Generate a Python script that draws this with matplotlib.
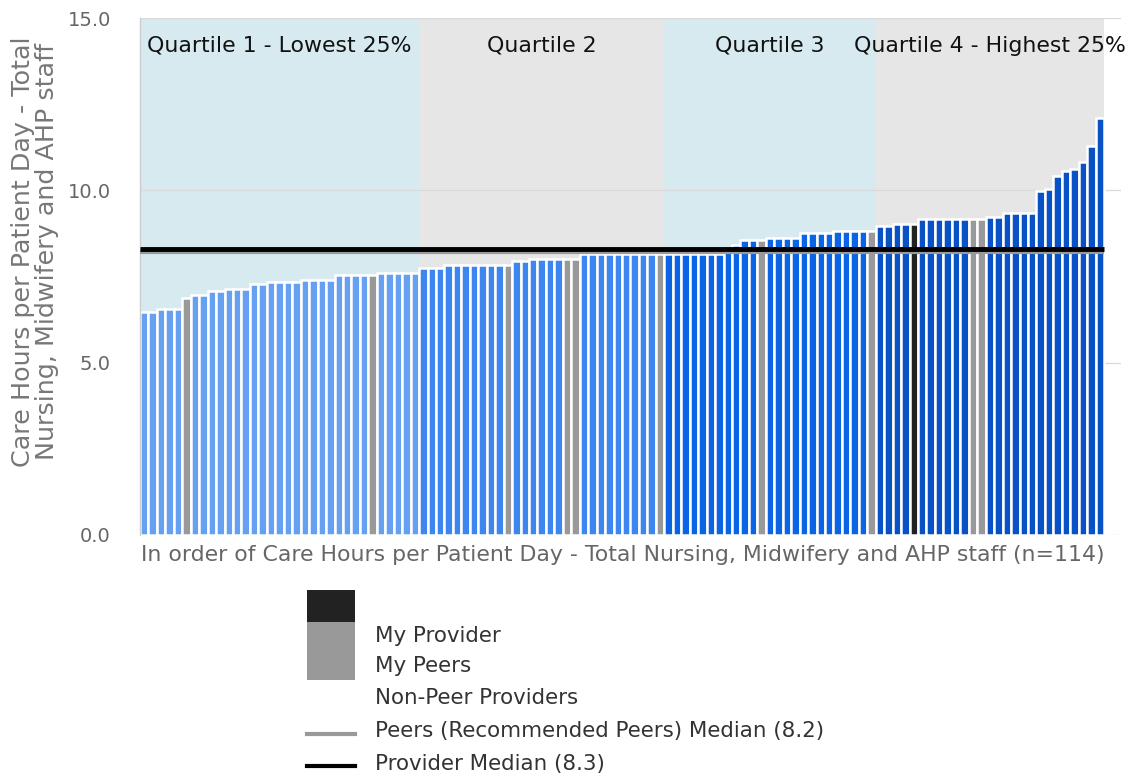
import matplotlib
matplotlib.use("Agg")
import matplotlib.pyplot as plt
from matplotlib.patches import Rectangle
from matplotlib.lines import Line2D

# ---------------- data ----------------
values = [6.47, 6.47, 6.55, 6.55, 6.55, 6.89, 6.96, 6.96, 7.08, 7.08,
          7.15, 7.15, 7.15, 7.28, 7.28, 7.34, 7.34, 7.34, 7.34, 7.41,
          7.41, 7.41, 7.41, 7.54, 7.54, 7.54, 7.54, 7.54, 7.61, 7.61,
          7.61, 7.61, 7.61, 7.75, 7.75, 7.75, 7.82, 7.82, 7.82, 7.82,
          7.82, 7.82, 7.82, 7.82, 7.95, 7.95, 8.02, 8.02, 8.02, 8.02,
          8.02, 8.02, 8.15, 8.15, 8.15, 8.15, 8.15, 8.15, 8.15, 8.15,
          8.15, 8.15, 8.15, 8.15, 8.15, 8.15, 8.15, 8.15, 8.15, 8.22,
          8.41, 8.55, 8.55, 8.55, 8.62, 8.62, 8.62, 8.62, 8.75, 8.75,
          8.75, 8.75, 8.82, 8.82, 8.82, 8.82, 8.82, 8.96, 8.96, 9.02,
          9.02, 9.02, 9.16, 9.16, 9.16, 9.16, 9.16, 9.16, 9.16, 9.16,
          9.23, 9.23, 9.35, 9.35, 9.35, 9.35, 9.97, 10.03, 10.43, 10.56,
          10.63, 10.83, 11.30, 12.11]
peer_idx = [5, 27, 43, 50, 51, 61, 73, 86, 98, 99]
provider_idx = [91]
quartile_sizes = [33, 29, 25, 27]
quartile_labels = ["Quartile 1 - Lowest 25%", "Quartile 2", "Quartile 3",
                   "Quartile 4 - Highest 25%"]
peers_median = 8.2
provider_median = 8.3
yticks = [0.0, 5.0, 10.0, 15.0]
xlabel = ("In order of Care Hours per Patient Day - Total Nursing, Midwifery "
          "and AHP staff (n=114)")
ylabel = "Care Hours per Patient Day - Total\nNursing, Midwifery and AHP staff"
legend_labels = ["My Provider", "My Peers", "Non-Peer Providers",
                 "Peers (Recommended Peers) Median (8.2)", "Provider Median (8.3)"]

# ---------------- style ----------------
q_colors = ["#66a1f1", "#3d86ef", "#0b64e4", "#0852c6"]
bg_colors = ["#d6eaf0", "#e6e6e6", "#d6eaf0", "#e6e6e6"]
peer_color = "#999999"
prov_color = "#222222"

W, H = 1137, 779
fig = plt.figure(figsize=(W / 100, H / 100), dpi=100)
ax = fig.add_axes([140 / W, 1 - 535 / H, 981 / W, (535 - 18) / H])

n = len(values)
x = list(range(n))
colors = []
starts = []
s = 0
for qi, size in enumerate(quartile_sizes):
    starts.append(s)
    colors += [q_colors[qi]] * size
    s += size
for i in peer_idx:
    colors[i] = peer_color
for i in provider_idx:
    colors[i] = prov_color

# quartile shading and labels
for qi, size in enumerate(quartile_sizes):
    x0 = starts[qi] - 0.5
    ax.axvspan(x0, x0 + size, ymin=0, ymax=1, color=bg_colors[qi], lw=0, zorder=0)
    ax.text(x0 + size / 2, 14.2, quartile_labels[qi], ha="center", va="center",
            fontsize=15.8, color="#111111", zorder=5)

for yv in yticks:
    ax.axhline(yv, color="#d9d9d9", lw=0.9, zorder=1)

ax.bar(x, values, width=1.0, color=colors, edgecolor="white", linewidth=1.8, zorder=2)

ax.plot([-0.5, n - 0.5], [peers_median] * 2, color="#999999", lw=3.0, zorder=3,
        solid_capstyle="butt")
ax.plot([-0.5, n - 0.5], [provider_median] * 2, color="black", lw=3.5, zorder=4,
        solid_capstyle="butt")

ax.set_xlim(-0.5, n + 1.5)
ax.set_ylim(0, 15)
ax.set_yticks(yticks)
ax.set_yticklabels([f"{v:.1f}" for v in yticks], fontsize=14, color="#666666")
ax.tick_params(axis="y", length=0, pad=21)
ax.set_xticks([])
for sp in ["top", "right", "bottom"]:
    ax.spines[sp].set_visible(False)
ax.spines["left"].set_color("#cccccc")
ax.spines["left"].set_linewidth(1.0)

fig.text(623 / W, 1 - 555 / H, xlabel,
         ha="center", va="center", fontsize=15.8, color="#666666")
fig.text(35 / W, 1 - 252 / H, ylabel, ha="center", va="center", rotation=90,
         fontsize=18.3, color="#777777", linespacing=0.98)

# legend drawn manually to reproduce layout
def px_rect(x0, y0, x1, y1, c):
    fig.add_artist(Rectangle((x0 / W, 1 - y1 / H), (x1 - x0) / W, (y1 - y0) / H,
                             transform=fig.transFigure, color=c, lw=0))

px_rect(307, 590, 355, 622, prov_color)
px_rect(307, 622, 355, 680, peer_color)
fig.add_artist(Line2D([307 / W, 355 / W], [1 - 734 / H] * 2, color="#999999", lw=3.0,
                      transform=fig.transFigure))
fig.add_artist(Line2D([307 / W, 355 / W], [1 - 766 / H] * 2, color="black", lw=3.0,
                      transform=fig.transFigure))
for lab, yy in zip(legend_labels, [636, 666, 698, 731, 764]):
    fig.text(375 / W, 1 - yy / H, lab, ha="left", va="center", fontsize=15.4,
             color="#333333")

fig.savefig("out.png", dpi=100)
